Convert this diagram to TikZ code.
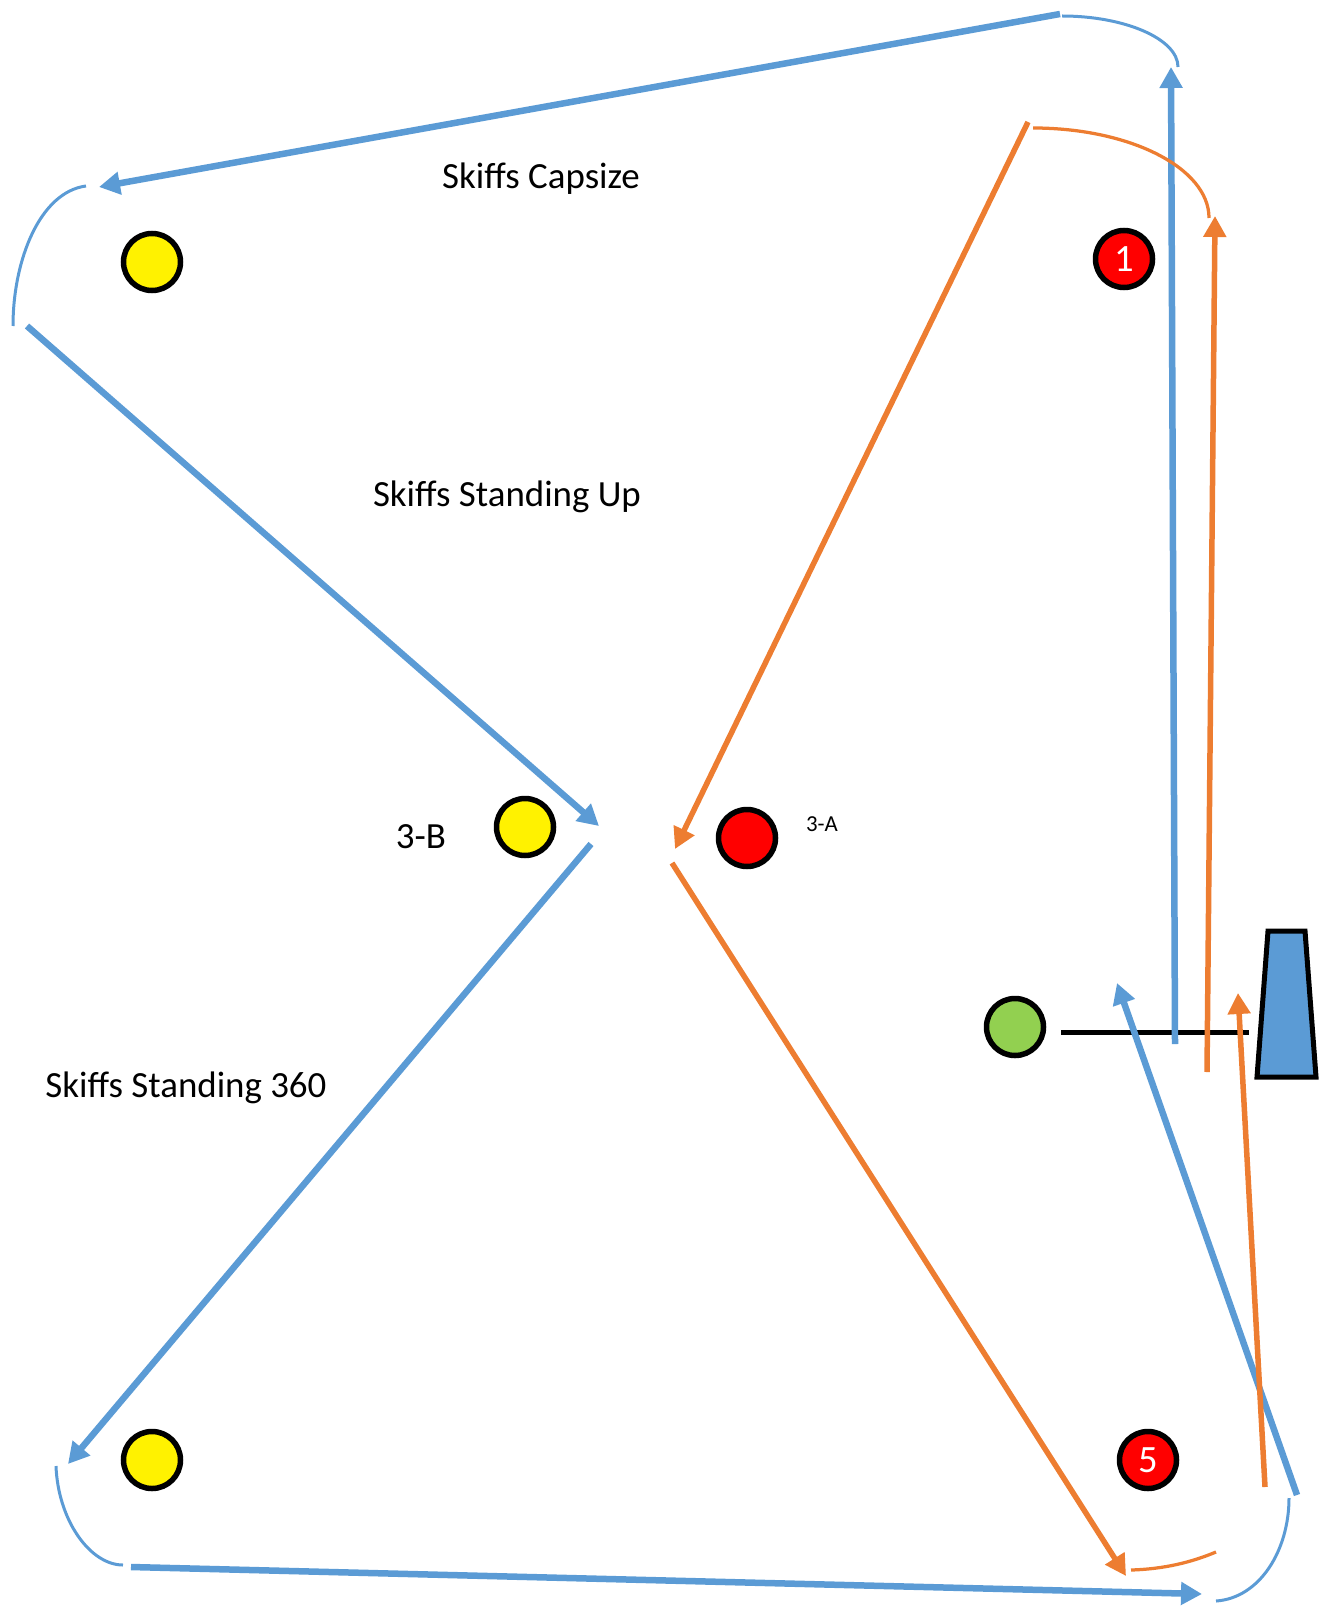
\documentclass[tikz,border=0pt]{standalone}
\usepackage{fontspec}
\setmainfont{Carlito}
\usetikzlibrary{arrows.meta}
\definecolor{skyblue}{HTML}{5B9BD5}
\definecolor{tangerine}{HTML}{ED7D31}
\definecolor{lime}{HTML}{92D050}
\tikzstyle{bluearrow} = [skyblue,line width=1.3mm,-{Triangle[length=4.2mm,width=4.4mm]}]
\tikzstyle{orangearrow} = [tangerine,line width=1.1mm,-{Triangle[length=4.2mm,width=4.4mm]}]
\tikzstyle{bluearc} = [skyblue,line width=0.6mm]
\tikzstyle{orangearc} = [tangerine,line width=0.65mm]
\tikzstyle{buoy} = [circle,draw=black,line width=1.1mm,minimum size=11.4mm,inner sep=0pt,text=white,font=\fontsize{22}{24}\selectfont]
\tikzstyle{coursetext} = [anchor=base,inner sep=0pt,font=\fontsize{21}{25}\selectfont]

\begin{document}
\begin{tikzpicture}[x=0.2mm,y=-0.2mm]
	\useasboundingbox (0,0) rectangle (1327,1606);
	% marks
	\node[buoy,fill=yellow] (ytop) at (152,262) {};
	\node[buoy,fill=yellow] (ymid) at (525,827) {};
	\node[buoy,fill=yellow] (ybot) at (152,1460) {};
	\node[buoy,fill=red] (rone) at (1124,259) {1};
	\node[buoy,fill=red] (rmid) at (747,838) {};
	\node[buoy,fill=red] (rfive) at (1148,1460) {5};
	\node[buoy,fill=lime] (pin) at (1015,1027) {};
	% start line and committee boat
	\draw[black,line width=1mm] (1061,1032) -- (1249,1032);
	\draw[black,line width=1mm,fill=skyblue] (1268,931) -- (1305,931) -- (1316,1077) -- (1257,1077) -- cycle;
	% labels
	\node[coursetext] (capsize) at (541,189) {Skiffs Capsize};
	\node[coursetext] (standup) at (507,506) {Skiffs Standing Up};
	\node[coursetext] (threesixty) at (186,1097) {Skiffs Standing 360};
	\node[coursetext] (tb) at (421,848) {3-B};
	\node[coursetext,font=\fontsize{13}{15}\selectfont] (ta) at (822,831) {3-A};
	% blue course
	\draw[bluearrow] (1175,1044) -- (1171,67);
	\draw[bluearc] (1062,16) .. controls (1125,16) and (1178,39) .. (1178,67);
	\draw[bluearrow] (1060,14) -- (99,187);
	\draw[bluearc] (86,186) .. controls (40,192) and (13,260) .. (13,326);
	\draw[bluearrow] (27,326) -- (599,826);
	\draw[bluearrow] (591,844) -- (68,1464);
	\draw[bluearc] (56,1466) .. controls (58,1520) and (90,1565) .. (123,1565);
	\draw[bluearrow] (131,1567) -- (1202,1594);
	\draw[bluearc] (1216,1601) .. controls (1260,1598) and (1289,1550) .. (1289,1498);
	\draw[bluearrow] (1297,1495) -- (1117,983);
	% orange course
	\draw[orangearrow] (1207,1072) -- (1215,216);
	\draw[orangearc] (1033,128) .. controls (1130,128) and (1209,168) .. (1209,218);
	\draw[orangearrow] (1028,122) -- (675,849);
	\draw[orangearrow] (672,863) -- (1126,1576);
	\draw[orangearc] (1131,1570) .. controls (1165,1569) and (1192,1562) .. (1216,1552);
	\draw[orangearrow] (1265,1487) -- (1238,993);
\end{tikzpicture}
\end{document}
